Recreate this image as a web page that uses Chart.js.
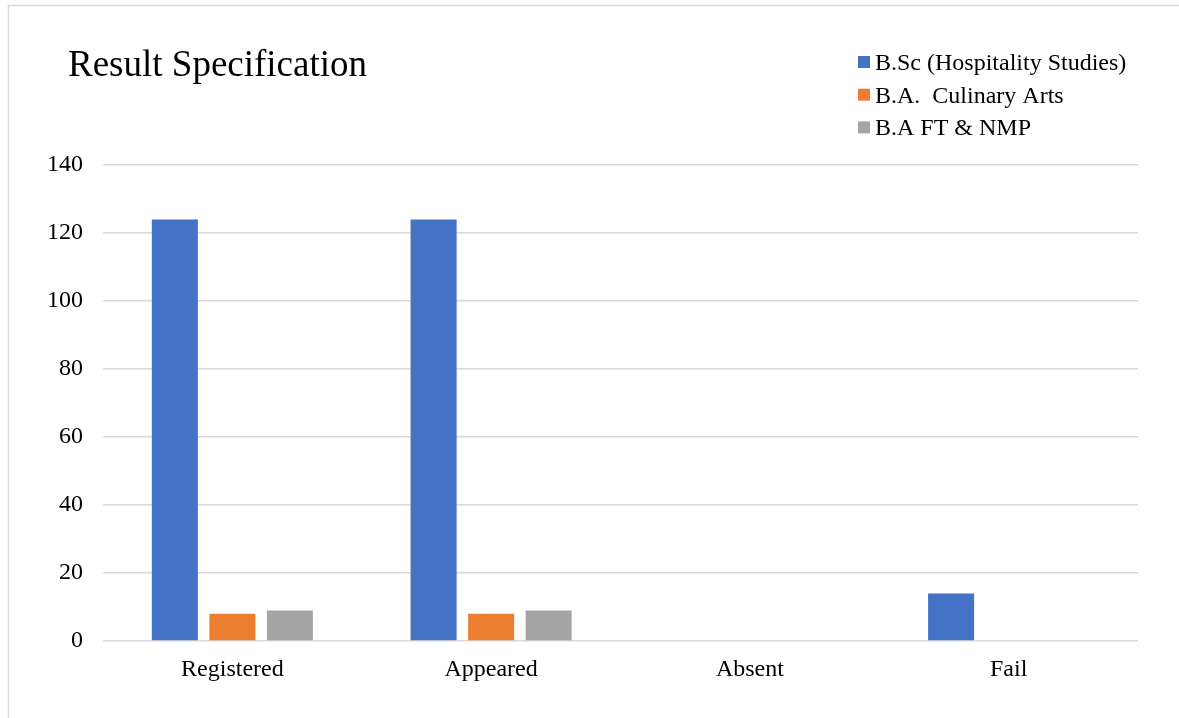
<!DOCTYPE html>
<html>
<head>
<meta charset="utf-8">
<title>Result Specification</title>
<script src="https://cdn.jsdelivr.net/npm/chart.js@4.4.1/dist/chart.umd.min.js"></script>
<style>
  html, body { margin: 0; padding: 0; background: #fff; }
  #wrap { width: 1179px; height: 718px; }
</style>
</head>
<body>
<div id="wrap"><canvas id="myChart" width="1179" height="718"></canvas></div>
<script>
const chartTitle = 'Result Specification';
const categories = ['Registered', 'Appeared', 'Absent', 'Fail'];
const seriesNames = ['B.Sc (Hospitality Studies)', 'B.A.  Culinary Arts', 'B.A FT & NMP'];
const bscValues = [124, 124, 0, 14];
const culinaryValues = [8, 8, 0, 0];
const ftNmpValues = [9, 9, 0, 0];
const yMin = 0;
const yMax = 140;
const yStep = 20;

const COLORS = ['#4472C4', '#ED7D31', '#A5A5A5'];
const FONT = "'Liberation Serif', 'Times New Roman', serif";

// frame, title and legend drawn by hand (Excel style layout)
const decor = {
  id: 'decor',
  beforeDraw(chart) {
    const c = chart.ctx;
    c.save();
    c.fillStyle = '#fff';
    c.fillRect(0, 0, chart.width, chart.height);
    c.strokeStyle = '#d9d9d9';
    c.lineWidth = 1.5;
    c.beginPath();
    c.moveTo(chart.width, 5.5);
    c.lineTo(8.5, 5.5);
    c.lineTo(8.5, chart.height);
    c.stroke();
    c.restore();
  },
  afterDraw(chart) {
    const c = chart.ctx;
    c.save();
    c.fillStyle = '#000';
    c.textBaseline = 'alphabetic';
    c.font = '37px ' + FONT;
    c.fillText(chartTitle, 68, 76);

    c.font = '24px ' + FONT;
    chart.data.datasets.forEach((ds, i) => {
      const base = 70 + i * 32.7;
      c.fillStyle = ds.backgroundColor;
      c.fillRect(858, base - 14, 12, 12);
      c.fillStyle = '#000';
      c.fillText(ds.label, 875, base);
    });
    c.restore();
  }
};

const data = {
  labels: categories,
  datasets: [
    { label: seriesNames[0], data: bscValues, backgroundColor: COLORS[0] },
    { label: seriesNames[1], data: culinaryValues, backgroundColor: COLORS[1] },
    { label: seriesNames[2], data: ftNmpValues, backgroundColor: COLORS[2] }
  ]
};

const config = {
  type: 'bar',
  data,
  options: {
    responsive: false,
    animation: false,
    events: [],
    layout: { padding: { top: 165, right: 41, left: 0, bottom: 0 } },
    datasets: {
      bar: { categoryPercentage: 0.667, barPercentage: 0.8 }
    },
    plugins: {
      legend: { display: false },
      title: { display: false },
      tooltip: { enabled: false }
    },
    scales: {
      x: {
        grid: { display: false, drawTicks: false },
        border: { display: false },
        ticks: { color: '#000', padding: 14, font: { family: FONT, size: 24 } },
        afterFit(scale) { scale.height = 77; }
      },
      y: {
        min: yMin,
        max: yMax,
        grid: { color: '#d9d9d9', lineWidth: 1.5, drawTicks: false },
        border: { display: false },
        ticks: { stepSize: yStep, color: '#000', padding: 20, font: { family: FONT, size: 24 } },
        afterFit(scale) { scale.width = 103; }
      }
    }
  },
  plugins: [decor]
};

new Chart(document.getElementById('myChart'), config);
</script>
</body>
</html>
